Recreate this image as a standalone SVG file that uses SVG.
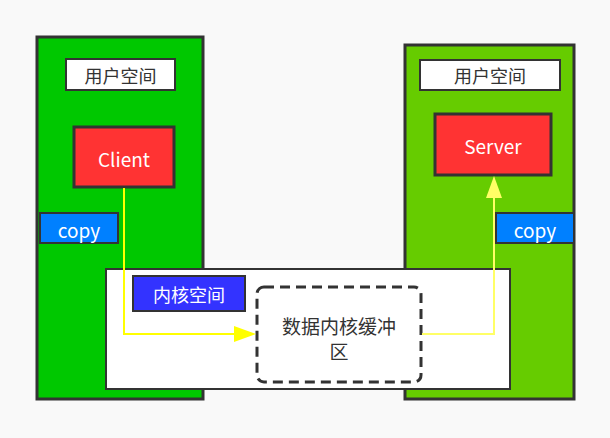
<svg xmlns="http://www.w3.org/2000/svg" width="610" height="438" viewBox="0 0 610 438">
<style>
.frame{stroke:#333;stroke-width:3}
.box{stroke:#333;stroke-width:2}
text{font-family:"Noto Sans CJK SC","Microsoft YaHei",sans-serif;text-anchor:middle;dominant-baseline:central}
.w{fill:#fff;font-size:19px}
.d{fill:#333;font-size:18px}
</style>
<rect width="610" height="438" fill="#f9f9f9"/>
<g id="left-user">
<rect x="37" y="37" width="166" height="362" fill="#00c800" class="frame"/>
</g>
<g id="right-user">
<rect x="405" y="45" width="169" height="354" fill="#66cc00" class="frame"/>
</g>
<g id="left-label"><rect x="66" y="59" width="109" height="31" fill="#fff" class="box"/><text x="120.5" y="75" class="d">用户空间</text></g>
<g id="right-label"><rect x="420" y="60" width="140" height="30" fill="#fff" class="box"/><text x="490" y="75" class="d">用户空间</text></g>
<g id="client"><rect x="74" y="127" width="100" height="60" fill="#ff3333" class="frame"/><text x="124" y="158" class="w">Client</text></g>
<g id="server"><rect x="435" y="114" width="116" height="61" fill="#ff3333" class="frame"/><text x="493" y="145" class="w">Server</text></g>
<g id="left-copy"><rect x="40" y="213" width="78" height="30" fill="#0080ff" class="box"/><text x="79" y="229" class="w">copy</text></g>
<g id="right-copy"><rect x="496" y="213" width="78" height="30" fill="#0080ff" class="box"/><text x="535" y="229" class="w">copy</text></g>
<g id="kernel"><rect x="106" y="269" width="404" height="120" fill="#fff" class="box"/></g>
<g id="kernel-label"><rect x="133" y="276" width="112" height="35" fill="#3333ff" class="box"/><text x="189" y="294" class="w" style="font-size:18px">内核空间</text></g>
<g id="buffer"><rect x="257" y="287" width="164" height="95" rx="7" fill="#fff" stroke="#333" stroke-width="3" stroke-dasharray="10,6"/><text x="339" y="325" class="d" style="font-size:19px">数据内核缓冲</text><text x="339" y="350" class="d" style="font-size:19px">区</text></g>
<g id="connectors" fill="none">
<path d="M124,188V334H234" stroke="#ffff00" stroke-width="2"/>
<path d="M234,326L256,334L234,342Z" fill="#ffff00"/>
<path d="M422,334H494V198" stroke="#ffff66" stroke-width="2"/>
<path d="M486,198L494,176L502,198Z" fill="#ffff66"/>
</g>
</svg>
